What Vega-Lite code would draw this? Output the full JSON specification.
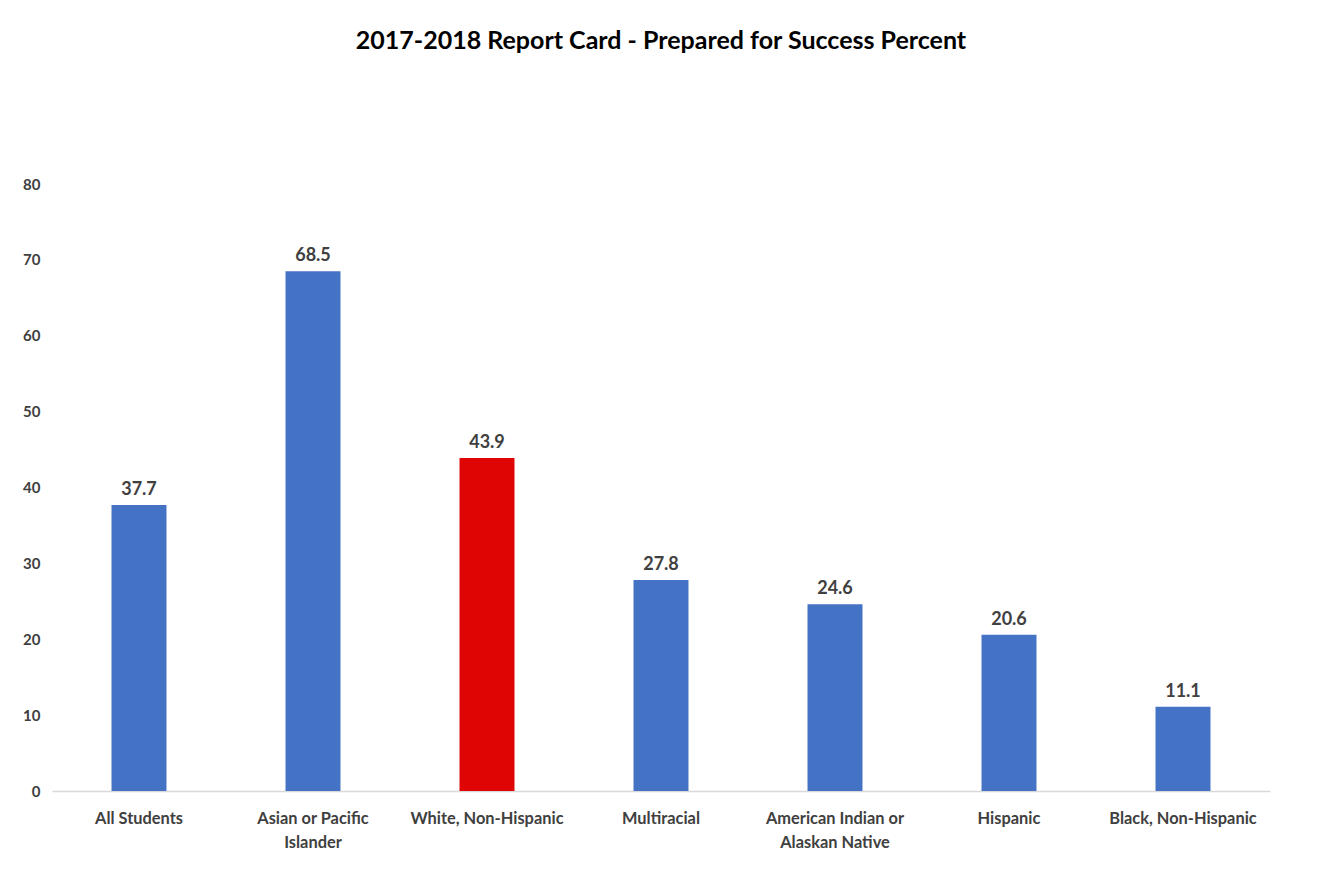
{
  "$schema": "https://vega.github.io/schema/vega-lite/v6.json",
  "width": 1218,
  "height": 607,
  "autosize": "none",
  "padding": {"left": 52, "top": 184, "right": 50, "bottom": 105},
  "background": "white",
  "title": {
    "text": "2017-2018 Report Card - Prepared for Success Percent",
    "font": "Lato",
    "fontSize": 25,
    "fontWeight": "bold",
    "color": "#000000",
    "anchor": "middle",
    "offset": 123
  },
  "data": {
    "values": [
      {"group": "All Students", "value": 37.7, "highlight": "no"},
      {"group": "Asian or Pacific Islander", "value": 68.5, "highlight": "no"},
      {"group": "White, Non-Hispanic", "value": 43.9, "highlight": "yes"},
      {"group": "Multiracial", "value": 27.8, "highlight": "no"},
      {"group": "American Indian or Alaskan Native", "value": 24.6, "highlight": "no"},
      {"group": "Hispanic", "value": 20.6, "highlight": "no"},
      {"group": "Black, Non-Hispanic", "value": 11.1, "highlight": "no"}
    ]
  },
  "encoding": {
    "x": {
      "field": "group",
      "type": "nominal",
      "sort": null,
      "scale": {"paddingInner": 0.684, "paddingOuter": 0.342},
      "axis": {
        "title": null,
        "labelAngle": 0,
        "labelFont": "Lato",
        "labelFontSize": 16.4,
        "labelFontWeight": "bold",
        "labelColor": "#404040",
        "labelPadding": 19,
        "labelLineHeight": 24,
        "labelBaseline": "top",
        "ticks": false,
        "domainColor": "#d9d9d9",
        "domainWidth": 1.5,
        "grid": false,
        "labelExpr": "datum.label == 'Asian or Pacific Islander' ? ['Asian or Pacific', 'Islander'] : datum.label == 'American Indian or Alaskan Native' ? ['American Indian or', 'Alaskan Native'] : datum.label"
      }
    },
    "y": {
      "field": "value",
      "type": "quantitative",
      "scale": {"domain": [0, 80]},
      "axis": {
        "title": null,
        "values": [0, 10, 20, 30, 40, 50, 60, 70, 80],
        "labelFont": "Lato",
        "labelFontSize": 15,
        "labelFontWeight": "bold",
        "labelColor": "#404040",
        "labelPadding": 12,
        "ticks": false,
        "domain": false,
        "grid": false
      }
    }
  },
  "layer": [
    {
      "mark": {"type": "bar"},
      "encoding": {
        "color": {
          "field": "highlight",
          "type": "nominal",
          "scale": {"domain": ["no", "yes"], "range": ["#4472C4", "#E00505"]},
          "legend": null
        }
      }
    },
    {
      "mark": {
        "type": "text",
        "baseline": "bottom",
        "dy": -6,
        "font": "Lato",
        "fontSize": 18,
        "fontWeight": "bold",
        "color": "#404040"
      },
      "encoding": {
        "text": {"field": "value", "type": "quantitative", "format": ".1f"}
      }
    }
  ],
  "config": {"view": {"stroke": null}}
}
